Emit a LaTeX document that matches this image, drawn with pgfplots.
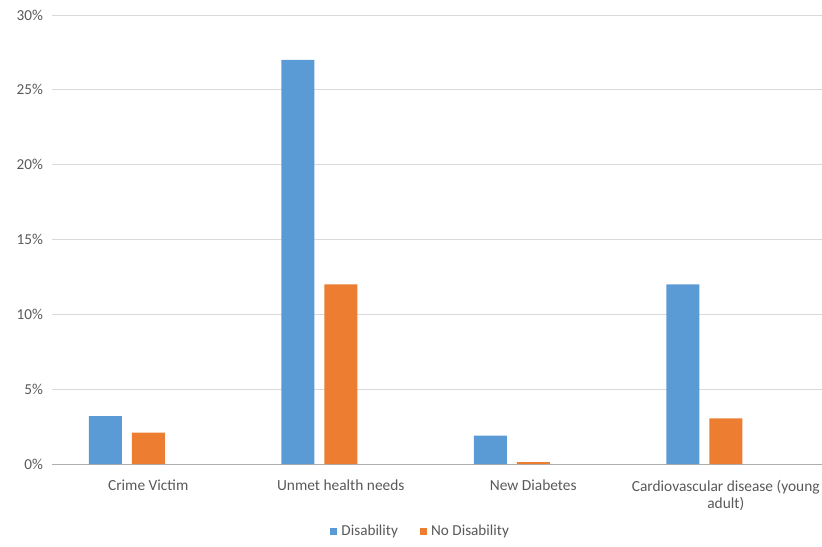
\documentclass[border=0pt]{standalone}
\usepackage{pgfplots}
\pgfplotsset{compat=1.18}
\usepackage{fontspec}
\setmainfont{Carlito}
\definecolor{serA}{HTML}{5B9BD5}
\definecolor{serB}{HTML}{ED7D31}
\definecolor{txt}{HTML}{595959}
\definecolor{grd}{HTML}{D9D9D9}
\begin{document}
\begin{tikzpicture}
\useasboundingbox (-26pt,-41pt) rectangle (385pt,232pt);
\begin{axis}[
  scale only axis,
  width=385pt, height=224.5pt,
  at={(0,0)}, anchor=south west,
  ymin=0, ymax=30,
  xmin=-0.5, xmax=3.5,
  ytick={0,5,...,30},
  yticklabel={\pgfmathprintnumber{\tick}\%},
  /pgf/number format/assume math mode=true,
  xtick={0,1,2,3},
  xticklabels={Crime Victim, Unmet health needs, New Diabetes, {Cardiovascular disease (young\\adult)}},
  xticklabel style={align=center, font=\fontsize{7.7}{8.8}\selectfont, text=txt, yshift=-4.5pt},
  yticklabel style={font=\fontsize{7.6}{8.5}\selectfont, text=txt, xshift=-1pt},
  major tick length=0pt,
  axis line style={draw=none},
  ymajorgrids,
  grid style={grd, line width=0.5pt},
  extra y ticks={0}, extra y tick labels={},
  extra y tick style={grid style={grd!80!black, line width=0.5pt}},
  ybar,
  bar width=16.5pt,
  legend style={at={(0.48,-0.15)}, anchor=center, draw=none,
    legend columns=-1, font=\fontsize{7.6}{8.5}\selectfont, text=txt,
    /tikz/every even column/.append style={column sep=9pt}},
  legend image code/.code={\fill[#1] (0pt,-1.8pt) rectangle (3.6pt,1.8pt);},
]
\addplot[fill=serA, draw=none, bar shift=-21.5pt] coordinates {(0,3.2) (1,27.0) (2,1.9) (3,12.0)};
\addplot[fill=serB, draw=none, bar shift=0pt] coordinates {(0,2.1) (1,12.0) (2,0.12) (3,3.05)};
\legend{Disability, No Disability}
\end{axis}
\end{tikzpicture}
\end{document}
